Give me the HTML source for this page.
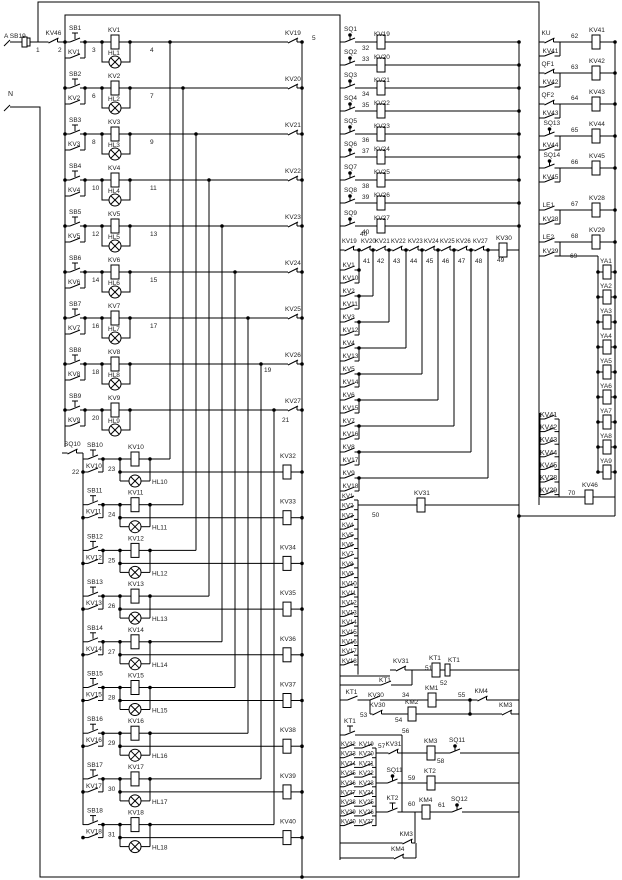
<!DOCTYPE html>
<html><head><meta charset="utf-8"><style>
html,body{margin:0;padding:0;background:#fff;}
svg{display:block;}
text{font-family:"Liberation Sans",sans-serif;font-size:6.5px;fill:#222;}
</style></head><body>
<svg id="s" width="622" height="880" viewBox="0 0 622 880" xmlns="http://www.w3.org/2000/svg">
<g id="g" stroke="#000" stroke-width="1" fill="none"></g>
<g id="t"></g>
</svg>
<script>
var g=document.getElementById('g'),tg=document.getElementById('t'),NS='http://www.w3.org/2000/svg';
function el(p,n,a){var e=document.createElementNS(NS,n);for(var k in a)e.setAttribute(k,a[k]);p.appendChild(e);return e;}
function L(x1,y1,x2,y2){el(g,'line',{x1:x1,y1:y1,x2:x2,y2:y2});}
function P(pts){el(g,'polyline',{points:pts});}
function T(x,y,s,fs){var e=el(tg,'text',{x:x,y:y});if(fs)e.setAttribute('style','font-size:'+fs+'px');e.textContent=s;}
function D(x,y){el(g,'circle',{cx:x,cy:y,r:1.3,fill:'#000'});}
function coil(x,y,lab,dy){el(g,'rect',{x:x-4,y:y-7,width:8,height:14,fill:'#fff'});if(lab)T(x-7,y-10+(dy||0),lab);}
function lamp(x,y){el(g,'circle',{cx:x,cy:y,r:6,fill:'#fff'});L(x-4,y-4,x+4,y+4);L(x-4,y+4,x+4,y-4);}
function NO(x1,x2,y,lab,ly){var m=(x1+x2)/2;L(x1,y,m-5,y);L(m-5,y,m+5,y-4);L(m+5,y,x2,y);if(lab)T(m-7,y-(ly||3),lab);}
function NC(x1,x2,y,lab){var m=(x1+x2)/2;L(x1,y,m-5,y);L(m-5,y+1,m+5,y-4);L(m+4,y-4,m+4,y);L(m+4,y,x2,y);if(lab)T(m-8,y-7,lab);}
function PB(x1,x2,y,lab){var m=(x1+x2)/2;L(x1,y,m-5,y);L(m-5,y,m+5,y-4);L(m+5,y,x2,y);L(m,y-3,m,y-9);L(m-3,y-9,m+3,y-9);if(lab)T(m-6,y-12,lab);}
function SQ(x1,x2,y,lab){var m=(x1+x2)/2;L(x1,y,m-5,y);L(m-5,y,m+5,y-4);L(m+5,y,x2,y);L(m,y-2,m,y-7);D(m,y-7);if(lab)T(m-6,y-11,lab);}

P('38,42 38,2 539,2 539,505');
P('65,440 65,15 340,15 340,860');
P('10,107 40,107 40,877 519,877 519,42');
el(tg,'text',{x:4,y:38}).textContent='A SB19';
T(8,96,'N',7);
L(4,46,10,40);L(4,111,10,105);
L(10,42,22,42);el(g,'rect',{x:22,y:37,width:5,height:10});el(g,'rect',{x:27,y:38,width:3,height:8});L(30,42,45,42);
NC(45,62,42,'KV46');L(62,42,65,42);T(36,52,'1');T(58,52,'2');T(312,40,'5');
var ln=[3,6,8,10,12,14,16,18,20],rn=['4','7','9','11','13','15','17','',''];
for(var i=0;i<9;i++){var y=42+46*i;
 PB(65,85,y,'SB'+(i+1));NO(65,85,y+16,'KV'+(i+1),4);L(85,y,85,y+16);L(85,y,102,y);D(65,y);D(85,y);
 coil(115,y,'KV'+(i+1));L(102,y,111,y);L(119,y,130,y);D(102,y);D(130,y);
 P((102)+','+y+' 102,'+(y+20)+' 109,'+(y+20));P('121,'+(y+20)+' 130,'+(y+20)+' 130,'+y);lamp(115,y+20);T(108,y+13,'HL'+(i+1));
 L(130,y,288,y);NC(284,302,y,'KV'+(19+i));D(302,y);
 var vx=170+13*i;L(vx,y,vx,459+45.7*i);D(vx,y);
 T(92,y+10,''+ln[i]);if(rn[i])T(150,y+10,rn[i]);}
L(302,42,302,877);D(302,877);T(264,372,'19');T(282,422,'21');
L(65,440,65,447);NC(62,83,453,'');T(64,446,'SQ10');L(83,453,83,459);T(72,474,'22');
for(var j=0;j<9;j++){var y=459+45.7*j;
 PB(83,103,y,'SB'+(10+j));NO(83,103,y+13,'KV'+(10+j),4);L(103,y,103,y+13);D(83,y+13);D(103,y);
 L(103,y,120,y);coil(135,y,'KV'+(10+j));L(120,y,131,y);L(139,y,150,y);D(120,y);D(150,y);
 L(150,y,170+13*j,y);
 L(120,y,120,y+22);L(120,y+22,129,y+22);lamp(135,y+22);L(141,y+22,150,y+22);L(150,y,150,y+22);
 L(120,y+13,283,y+13);D(120,y+13);coil(287,y+13,'KV'+(32+j),-4);L(291,y+13,302,y+13);D(302,y+13);
 T(152,y+25,'HL'+(10+j));T(108,y+12,''+(23+j));}
L(83,459,83,825);
for(var k=0;k<9;k++){var y=42+23*k;SQ(340,360,y,'SQ'+(k+1));L(360,y,377,y);coil(381,y,'KV'+(19+k),4);L(385,y,519,y);D(519,y);T(362,y+(k%2?-4:8),''+(32+k));}
T(360,236,'40');
var cx=[340,359,373,389,406,422,438,454,471,488];
for(var k=0;k<9;k++){NC(cx[k],cx[k+1],250,'');T(cx[k]+2,243,'KV'+(19+k),6);D(cx[k+1],250);}
L(488,250,499,250);coil(503,250,'KV30');L(507,250,519,250);T(497,262,'49');
var nn=['41','42','43','44','45','46','47','48'];for(var k=0;k<8;k++)T(cx[k+1]+4,263,nn[k]);
for(var k=0;k<9;k++){var y=270+26*k;NO(340,359,y,'KV'+(k+1),3);NO(340,359,y+13,'KV'+(10+k),3);L(359,y,359,y+13);L(359,y,cx[k+1],y);L(cx[k+1],250,cx[k+1],y);D(359,y);}
for(var k=0;k<18;k++){var y=500+9.7*k;NO(340,358,y,'',0);T(342,y-2,'KV'+(k+1),6);L(358,y,358,y+9.7);}
L(358,505,417,505);coil(421,505,'KV31');L(425,505,519,505);T(372,517,'50');
L(340,676,390,676);NC(390,412,670,'KV31');L(412,670,432,670);coil(436,670,'KT1');L(440,670,445,670);el(g,'rect',{x:445,y:664,width:5,height:12});L(450,670,519,670);T(425,670,'51');T(440,685,'52');T(448,662,'KT1');
L(340,685,360,685);NO(360,412,685,'KT1');L(412,685,412,670);
NO(340,365,700,'KT1',6);L(365,700,370,700);NO(365,385,700,'KV30');L(385,700,428,700);coil(432,700,'KM1');L(436,700,470,700);T(402,697,'34');T(458,697,'55');NC(470,495,700,'KM4');L(495,700,519,700);
NC(370,385,714,'KV30');L(370,700,370,714);L(385,714,408,714);coil(412,714,'KM2');L(416,714,495,714);L(470,700,470,714);D(470,700);D(470,714);NC(495,519,714,'KM3');T(360,717,'53');T(395,722,'54');
PB(340,360,735,'KT1');L(360,735,402,735);L(402,735,402,753);T(402,733,'56');
for(var k=0;k<9;k++){var y=748+9.7*k;NO(340,358,y,'',0);T(341,y-2,'KV'+(32+k),6);NO(358,376,y,'',0);T(359,y-2,'KV'+(19+k),6);}
L(376,748,376,826);L(340,748,340,858);
L(376,753,385,753);NC(385,402,753,'KV31');L(402,753,427,753);coil(431,753,'KM3');L(435,753,445,753);SQ(445,465,753,'SQ11');L(465,753,519,753);T(378,748,'57');T(437,763,'58');
L(376,783,383,783);SQ(383,402,783,'SQ11');L(402,783,427,783);coil(431,783,'KT2');L(435,783,519,783);L(402,753,402,812);T(408,780,'59');
L(376,812,383,812);PB(383,402,812,'KT2');L(402,812,422,812);coil(426,812,'KM4');L(430,812,447,812);SQ(447,467,812,'SQ12');L(467,812,519,812);T(408,806,'60');T(438,807,'61');
L(340,843,400,843);NC(400,415,843,'KM3');L(415,843,415,812);L(340,858,388,858);NC(388,410,858,'KM4');L(410,858,416,858);L(416,858,416,843);
var ry=[42,73,104,136,168,210,242],rl=['KU','QF1','QF2','SQ13','SQ14','LE1','LE2'],rc=['KV41','KV42','KV43','KV44','KV45','KV28','KV29'];
for(var k=0;k<7;k++){var y=ry[k];if(k<3)NC(539,560,y,rl[k]);else if(k<5)SQ(539,560,y,rl[k]);else NO(539,560,y,rl[k]);
 NO(539,560,y+14,rc[k],3);L(560,y,560,y+14);L(539,y,539,y+14);L(560,y,592,y);coil(596,y,rc[k]);L(600,y,615,y);D(615,y);T(571,y-4,''+(62+k));}
L(560,256,598,256);L(598,256,598,262);T(570,258,'69');
for(var k=0;k<9;k++){var y=272+25*k;coil(607,y,'YA'+(k+1),1);L(598,y,603,y);L(611,y,615,y);D(598,y);D(615,y);}
L(598,262,598,472);
var kl=['KV41','KV42','KV43','KV44','KV45','KV28','KV29'];
for(var k=0;k<7;k++){var y=419+12.6*k;NO(540,559,y,'',0);T(540,y-2,kl[k],7);}
L(540,413,540,497);L(559,419,559,497);L(540,497,585,497);coil(589,497,'KV46');L(593,497,615,497);T(568,495,'70');
L(615,42,615,516);L(519,516,615,516);D(519,516);
</script>
</body></html>
